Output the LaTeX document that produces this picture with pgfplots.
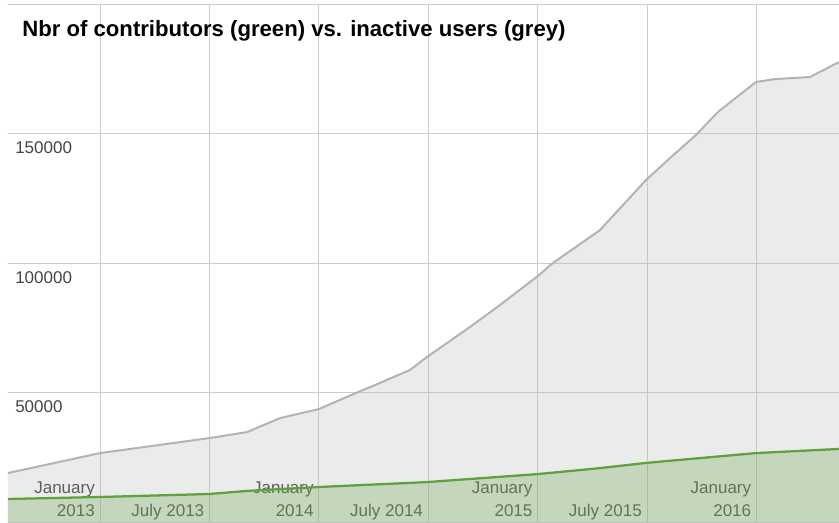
\documentclass[border=0pt]{standalone}
\usepackage{fontspec}
\setmainfont{Liberation Sans}
\usepackage{pgfplots}
\pgfplotsset{compat=1.18}
\definecolor{gridc}{HTML}{CCCCCC}
\definecolor{greyline}{HTML}{B3B3B3}
\definecolor{greyfill}{HTML}{B8B8B8}
\definecolor{greenline}{HTML}{5FA03F}
\definecolor{greenfill}{HTML}{6AA84F}
\definecolor{labc}{HTML}{444444}
\definecolor{xlabc}{HTML}{3A3A3A}
\begin{document}
\begin{tikzpicture}
\begin{axis}[name=ax, at={(0,0)}, anchor=south west,
 scale only axis, width=623.25pt, height=388.5pt,
 xmin=-5.05, xmax=40.53, ymin=0, ymax=200000,
 axis line style={draw=none}, tick style={draw=none},
 grid=major, grid style={gridc, line width=0.75pt},
 xtick={0,6,12,18,24,30,36},
 xticklabels={{January\\2013},{July 2013},{January\\2014},{July 2014},{January\\2015},{July 2015},{January\\2016}},
 xticklabel style={anchor=south east, align=right, inner sep=0pt, text depth=0pt, xshift=-3.75pt, yshift=4.5pt, font=\fontsize{12.75}{17.25}\selectfont, text=xlabc},
 ytick={0,50000,100000,150000,200000},
 yticklabels={,50000,100000,150000,},
 yticklabel style={anchor=north west, inner sep=0pt, xshift=5.25pt, yshift=-5.6pt, font=\fontsize{12.75}{15}\selectfont, text=labc},
 scaled y ticks=false,
]
\addplot[draw=none, fill=greyfill, fill opacity=0.28] coordinates {
(-5.05,19100) (0,26800) (6,32600) (8.06,34900) (9.87,40300) (12,43800)
(14.04,50000) (15.36,53900) (17,58900) (17.93,63900) (18.48,66600)
(20.29,75500) (21.94,84000) (24.02,95200) (24.84,100200) (27.42,112900)
(29.94,132200) (31.26,140700) (32.74,150000) (33.89,158500) (35.98,170100)
(37.02,171200) (38.94,172000) (40.53,177800)} \closedcycle;
\addplot[draw=none, fill=greenfill, fill opacity=0.3] coordinates {
(-5.05,9070) (0,9850) (6,11000) (8.06,12200) (12,13700) (17.93,15600)
(24.02,18700) (27.42,21000) (29.94,23000) (35.98,26800) (40.53,28400)} \closedcycle;
\addplot[draw=greyline, line width=1.5pt] coordinates {
(-5.05,19100) (0,26800) (6,32600) (8.06,34900) (9.87,40300) (12,43800)
(14.04,50000) (15.36,53900) (17,58900) (17.93,63900) (18.48,66600)
(20.29,75500) (21.94,84000) (24.02,95200) (24.84,100200) (27.42,112900)
(29.94,132200) (31.26,140700) (32.74,150000) (33.89,158500) (35.98,170100)
(37.02,171200) (38.94,172000) (40.53,177800)};
\addplot[draw=greenline, line width=1.7pt] coordinates {
(-5.05,9070) (0,9850) (6,11000) (8.06,12200) (12,13700) (17.93,15600)
(24.02,18700) (27.42,21000) (29.94,23000) (35.98,26800) (40.53,28400)};
\node[anchor=base west, inner sep=0pt, font=\bfseries\fontsize{16.6}{19}\selectfont] at (axis cs:-4.277,187450) {Nbr of contributors (green) vs. inactive users (grey)};
\end{axis}
\pgfresetboundingbox
\useasboundingbox ([xshift=-6pt]ax.south west) rectangle ([yshift=3.375pt]ax.north east);
\end{tikzpicture}
\end{document}
